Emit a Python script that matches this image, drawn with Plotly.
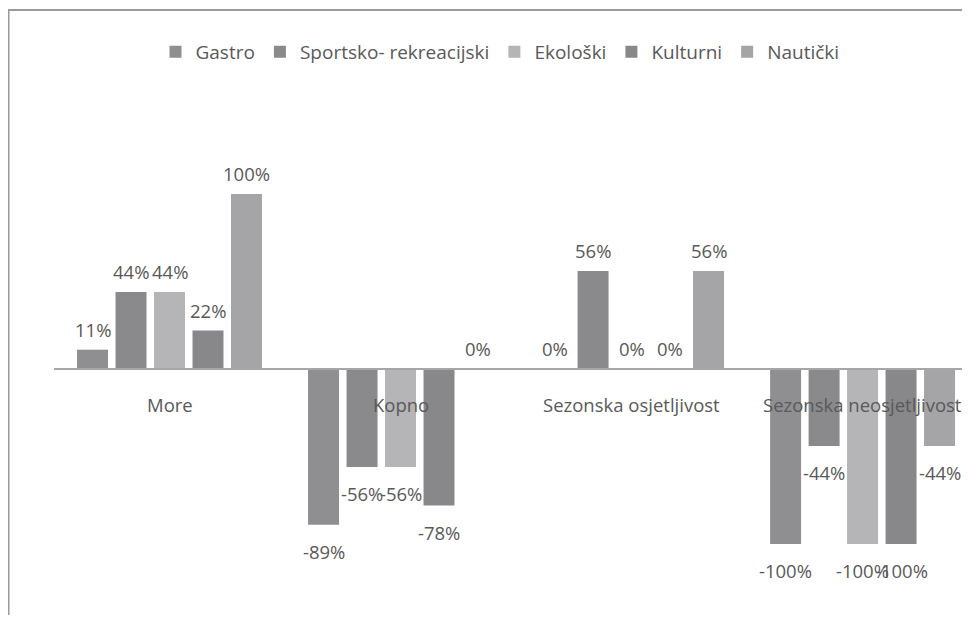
import plotly.graph_objects as go

# datos
categorias = ["More", "Kopno", "Sezonska osjetljivost", "Sezonska neosjetljivost"]
series = ["Gastro", "Sportsko- rekreacijski", "Ekološki", "Kulturni", "Nautički"]
gastro = [11, -89, 0, -100]
sportsko = [44, -56, 56, -44]
ekoloski = [44, -56, 0, -100]
kulturni = [22, -78, 0, -100]
nauticki = [100, 0, 56, -44]

valores = [gastro, sportsko, ekoloski, kulturni, nauticki]
colores = ["#8f8f92", "#8a8a8d", "#b5b5b7", "#88888b", "#a5a5a8"]

# la página tiene 8px de margen en el body
W, H = 962, 607
ML, MR, MT, MB = 46, 0, 72, 0
YMIN, YMAX = -140.6, 165.1
BARGAP = 0.167
pw = W - ML - MR
ph = H - MT - MB
gris_texto = "#595959"


def px_x(x):
    return (x - ML) / pw


def px_y(y):
    return (H - MB - y) / ph


fig = go.Figure()
for nombre, vals, col in zip(series, valores, colores):
    fig.add_trace(go.Bar(
        name=nombre,
        x=categorias,
        y=vals,
        marker=dict(color=col, line=dict(width=0)),
        cliponaxis=False,
        hovertemplate="%{x}: %{y}%<extra>" + nombre + "</extra>",
    ))

# etiquetas de valores
slot = (1 - BARGAP) / len(series)
anotaciones = []
for i, vals in enumerate(valores):
    for j, v in enumerate(vals):
        anotaciones.append(dict(
            x=j + (i - 2) * slot, y=v, xref="x", yref="y",
            text=f"{v}%", showarrow=False,
            yanchor="middle", xanchor="center",
            yshift=20 if v >= 0 else -27,
            font=dict(size=18.5, color=gris_texto),
        ))

# etiquetas de categorías debajo de la línea del cero
for j, c in enumerate(categorias):
    anotaciones.append(dict(
        x=j, y=0, xref="x", yref="y",
        text=c, showarrow=False,
        yanchor="middle", xanchor="center",
        yshift=-36,
        font=dict(size=18.5, color=gris_texto),
    ))

cero = (0 - YMIN) / (YMAX - YMIN)

fig.update_layout(
    width=W, height=H,
    margin=dict(l=ML, r=MR, t=MT, b=MB, autoexpand=False),
    paper_bgcolor="white",
    plot_bgcolor="white",
    font=dict(family="Open Sans", size=18, color=gris_texto),
    barmode="group",
    bargap=BARGAP,
    bargroupgap=0.195,
    showlegend=True,
    legend=dict(
        orientation="h",
        x=px_x(492), xanchor="center",
        y=px_y(44), yanchor="middle",
        font=dict(size=19, color=gris_texto),
        itemwidth=30,
    ),
    xaxis=dict(
        type="category",
        range=[-0.5, 3.465],
        anchor="free",
        position=cero,
        showline=True,
        linecolor="#a6a6a6",
        linewidth=2,
        ticks="",
        showticklabels=False,
        showgrid=False,
        zeroline=False,
    ),
    yaxis=dict(
        range=[YMIN, YMAX],
        visible=False,
        showgrid=False,
        zeroline=False,
    ),
    annotations=anotaciones,
    shapes=[
        dict(type="line", xref="paper", yref="paper",
             x0=px_x(0.5), x1=px_x(0.5), y0=px_y(2), y1=px_y(H + 5),
             line=dict(color="#9a9a9a", width=2)),
        dict(type="line", xref="paper", yref="paper",
             x0=px_x(0), x1=px_x(W + 5), y0=px_y(2), y1=px_y(2),
             line=dict(color="#9a9a9a", width=2)),
    ],
)

fig.write_html("out.html")
